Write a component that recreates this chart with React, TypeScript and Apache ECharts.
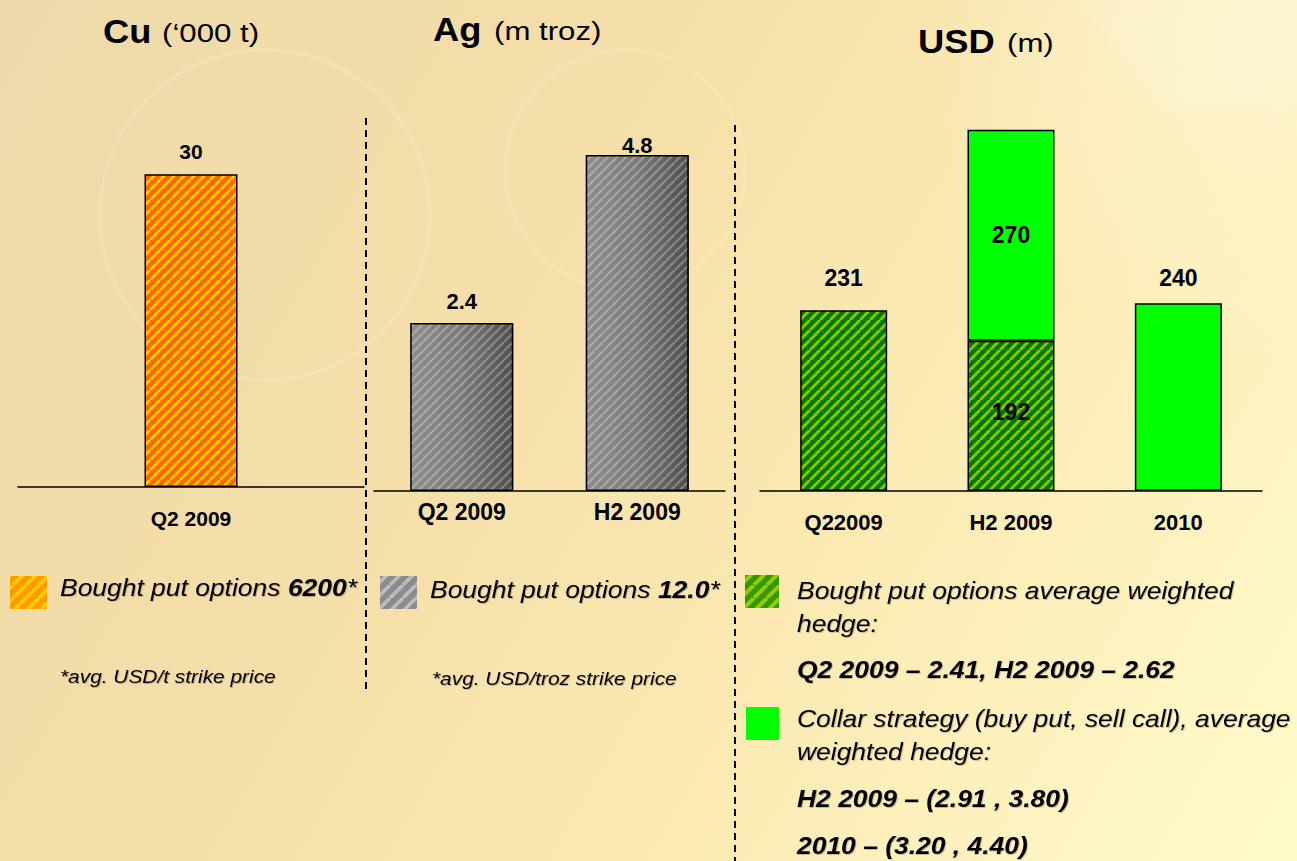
import React, { useEffect, useRef } from 'react';
import * as echarts from 'echarts';

// ---------- data ----------
const cuCategories = ['Q2 2009'];
const cuValues = [30];
const agCategories = ['Q2 2009', 'H2 2009'];
const agValues = [2.4, 4.8];
const usdCategories = ['Q22009', 'H2 2009', '2010'];
const usdPutValues: (number | null)[] = [231, 192, null];
const usdCollarValues: (number | null)[] = [null, 270, 240];

const titleMain = ['Cu', 'Ag', 'USD'];
const titleUnit = ['(‘000 t)', '(m troz)', '(m)'];

const FONT = '"Liberation Sans", Arial, Helvetica, sans-serif';

function stripes(base: string | null, stripe: string, period: number, width: number) {
  const c = document.createElement('canvas');
  c.width = period;
  c.height = period;
  const ctx = c.getContext('2d') as CanvasRenderingContext2D;
  if (base) {
    ctx.fillStyle = base;
    ctx.fillRect(0, 0, period, period);
  }
  ctx.strokeStyle = stripe;
  ctx.lineWidth = width;
  for (let k = -1; k <= 1; k++) {
    ctx.beginPath();
    ctx.moveTo(k * period, period);
    ctx.lineTo(k * period + period, 0);
    ctx.stroke();
  }
  return { image: c, repeat: 'repeat' } as any;
}

export default function App() {
  const ref = useRef<HTMLDivElement>(null);
  useEffect(() => {
    if (!ref.current) return;
    const chart = echarts.init(ref.current, null, { renderer: 'svg' });

    const orangeBar = stripes('#FF6600', '#FFCC00', 10, 2.8);
    const greenBar = stripes('#007A00', '#8CC400', 10, 3);
    const grayOverlay = stripes(null, 'rgba(255,255,255,0.28)', 9, 2.2);
    const orangeSw = stripes('#FF9900', '#FFCC00', 13, 4);
    const graySw = stripes('#8C8C8C', '#BDBDBD', 13, 3.5);
    const greenSw = stripes('#339900', '#99CC00', 13, 4);

    const grayGrad = new echarts.graphic.LinearGradient(0, 0, 1, 0, [
      { offset: 0, color: '#8E8E8E' },
      { offset: 0.5, color: '#7A7A7A' },
      { offset: 1, color: '#4E4E4E' },
    ]);

    const axisCommon = (idx: number, cats: string[], size: number, margin: number) => ({
      type: 'category',
      gridIndex: idx,
      data: cats,
      axisLine: { lineStyle: { color: '#000', width: 1.5 } },
      axisTick: { length: 6, lineStyle: { color: '#000', width: 1.5 } },
      axisLabel: { color: '#000', fontWeight: 'bold', fontSize: size, fontFamily: FONT, margin },
    });

    const valueLabel = (size: number, distance: number) => ({
      show: true,
      position: 'top',
      distance,
      color: '#000',
      fontWeight: 'bold',
      fontSize: size,
      fontFamily: FONT,
    });

    const border = { borderColor: '#000', borderWidth: 1.5 };

    const shadow = {
      textShadowColor: 'rgba(0,0,0,0.22)',
      textShadowBlur: 1,
      textShadowOffsetX: 1,
      textShadowOffsetY: 1,
    };

    const legendText = (x: number, y: number, text: string, size = 23, rich?: any, sx = 1.15) => ({
      type: 'text',
      x,
      y,
      scaleX: sx,
      style: {
        text,
        fill: '#000',
        font: `italic ${size}px ${FONT}`,
        verticalAlign: 'middle',
        align: 'left',
        rich,
        ...shadow,
      },
    });

    const richLegend = {
      n: { fontStyle: 'italic', fontSize: 23, fontFamily: FONT, color: '#000' },
      b: { fontStyle: 'italic', fontWeight: 'bold', fontSize: 23, fontFamily: FONT, color: '#000' },
    };

    const titleMainText = (x: number, y: number, i: number) => ({
      type: 'text',
      x,
      y,
      scaleX: 1.1,
      style: {
        text: titleMain[i],
        fill: '#000',
        font: `bold 33px ${FONT}`,
        verticalAlign: 'middle',
        align: 'left',
      },
    });
    const titleUnitText = (x: number, y: number, i: number) => ({
      type: 'text',
      x,
      y,
      scaleX: 1.2,
      style: {
        text: titleUnit[i],
        fill: '#000',
        font: `26px ${FONT}`,
        verticalAlign: 'middle',
        align: 'left',
      },
    });

    const option: any = {
      animation: false,
      backgroundColor: 'transparent',
      grid: [
        { left: 18, top: 70, width: 346, height: 417 },
        { left: 374, top: 71, width: 351, height: 420 },
        { left: 760, top: 100, width: 502, height: 391 },
      ],
      xAxis: [
        axisCommon(0, cuCategories, 21, 21),
        axisCommon(1, agCategories, 23, 9),
        axisCommon(2, usdCategories, 22, 20),
      ],
      yAxis: [
        { type: 'value', gridIndex: 0, min: 0, max: 40, show: false },
        { type: 'value', gridIndex: 1, min: 0, max: 6, show: false },
        { type: 'value', gridIndex: 2, min: 0, max: 500, show: false },
      ],
      series: [
        {
          type: 'bar',
          xAxisIndex: 0,
          yAxisIndex: 0,
          data: cuValues,
          barWidth: 93,
          itemStyle: { color: orangeBar, ...border },
          label: valueLabel(21, 12),
        },
        {
          type: 'bar',
          xAxisIndex: 1,
          yAxisIndex: 1,
          data: agValues,
          barWidth: 103,
          itemStyle: { color: grayGrad },
        },
        {
          type: 'bar',
          xAxisIndex: 1,
          yAxisIndex: 1,
          barGap: '-100%',
          barWidth: 103,
          data: agValues.map((v, i) => ({ value: v, label: { distance: i === 0 ? 11 : -1 } })),
          itemStyle: { color: grayOverlay, ...border },
          label: valueLabel(22, 11),
        },
        {
          type: 'bar',
          xAxisIndex: 2,
          yAxisIndex: 2,
          stack: 'usd',
          barWidth: 87,
          data: usdPutValues.map((v, i) =>
            v == null
              ? '-'
              : { value: v, label: i === 1 ? { position: 'inside', offset: [0, -4] } : { position: 'top', distance: 21 } }
          ),
          itemStyle: { color: greenBar, ...border },
          label: valueLabel(23, 12),
        },
        {
          type: 'bar',
          xAxisIndex: 2,
          yAxisIndex: 2,
          stack: 'usd',
          barWidth: 87,
          data: usdCollarValues.map((v, i) =>
            v == null ? '-' : { value: v, label: i === 1 ? { position: 'inside' } : { position: 'top', distance: 14 } }
          ),
          itemStyle: { color: '#00FF00', ...border },
          label: valueLabel(23, 12),
        },
      ],
      graphic: {
        elements: [
          // faint watermark
          { type: 'circle', z: -5, silent: true, shape: { cx: 265, cy: 215, r: 165 }, style: { fill: 'none', stroke: 'rgba(255,250,225,0.2)', lineWidth: 3 } },
          { type: 'circle', z: -5, silent: true, shape: { cx: 625, cy: 170, r: 120 }, style: { fill: 'none', stroke: 'rgba(255,250,225,0.18)', lineWidth: 3 } },
          { type: 'polygon', z: -5, silent: true, shape: { points: [[1075, 0], [1297, 0], [1297, 95], [1165, 110]] }, style: { fill: 'rgba(255,252,232,0.15)' } },
          // titles
          titleMainText(103, 32, 0),
          titleUnitText(162, 33, 0),
          titleMainText(433, 30, 1),
          titleUnitText(494, 31, 1),
          titleMainText(918, 42, 2),
          titleUnitText(1007, 43, 2),
          // dashed separators
          { type: 'line', shape: { x1: 366, y1: 118, x2: 366, y2: 690 }, style: { stroke: '#000', lineWidth: 2, lineDash: [7, 5] } },
          { type: 'line', shape: { x1: 735, y1: 125, x2: 735, y2: 861 }, style: { stroke: '#000', lineWidth: 2, lineDash: [7, 5] } },
          // Cu legend
          { type: 'rect', shape: { x: 10, y: 576, width: 37, height: 33 }, style: { fill: orangeSw } },
          legendText(60, 588, '{n|Bought put options }{b|6200}{n|*}', 23, richLegend),
          legendText(60, 677, '*avg. USD/t strike price', 18, undefined, 1.16),
          // Ag legend
          { type: 'rect', shape: { x: 380, y: 576, width: 37, height: 33 }, style: { fill: graySw } },
          legendText(430, 590, '{n|Bought put options }{b|12.0}{n|*}', 23, richLegend),
          legendText(432, 679, '*avg. USD/troz strike price', 18, undefined, 1.16),
          // USD legend
          { type: 'rect', shape: { x: 745, y: 575, width: 34, height: 33 }, style: { fill: greenSw } },
          legendText(797, 591, 'Bought put options average weighted'),
          legendText(797, 624, 'hedge:'),
          legendText(797, 670, '{b|Q2 2009 – 2.41, H2 2009 – 2.62}', 23, richLegend),
          { type: 'rect', shape: { x: 746, y: 707, width: 33, height: 33 }, style: { fill: '#00FF00' } },
          legendText(797, 719, 'Collar strategy (buy put, sell call), average'),
          legendText(797, 752, 'weighted hedge:'),
          legendText(797, 799, '{b|H2 2009 – (2.91 , 3.80)}', 23, richLegend),
          legendText(797, 846, '{b|2010 – (3.20 , 4.40)}', 23, richLegend),
        ],
      },
    };

    chart.setOption(option);
    return () => chart.dispose();
  }, []);

  return (
    <div
      style={{
        position: 'absolute',
        left: 0,
        top: 0,
        width: 1297,
        height: 861,
        background:
          'radial-gradient(circle at 96% 4%, rgba(255,250,222,0.55) 0%, rgba(255,250,222,0) 22%), linear-gradient(120deg, #EDD9AA 0%, #F5DFA9 38%, #FBEAB3 65%, #FFFBCB 100%)',
      }}
    >
      <div ref={ref} style={{ width: 1297, height: 861 }} />
    </div>
  );
}
